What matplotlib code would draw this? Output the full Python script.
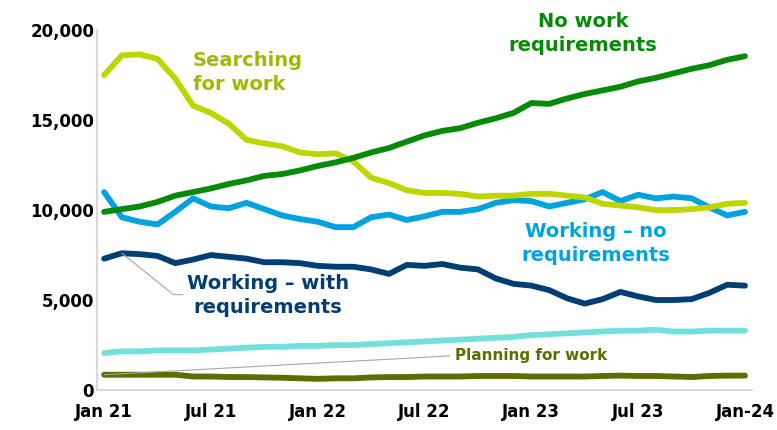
import matplotlib.pyplot as plt

months = ['Jan 21', 'Feb 21', 'Mar 21', 'Apr 21', 'May 21', 'Jun 21', 'Jul 21', 'Aug 21', 'Sep 21', 'Oct 21',
          'Nov 21', 'Dec 21', 'Jan 22', 'Feb 22', 'Mar 22', 'Apr 22', 'May 22', 'Jun 22', 'Jul 22', 'Aug 22',
          'Sep 22', 'Oct 22', 'Nov 22', 'Dec 22', 'Jan 23', 'Feb 23', 'Mar 23', 'Apr 23', 'May 23', 'Jun 23',
          'Jul 23', 'Aug 23', 'Sep 23', 'Oct 23', 'Nov 23', 'Dec 23', 'Jan-24']
tick_labels = ['Jan 21', 'Jul 21', 'Jan 22', 'Jul 22', 'Jan 23', 'Jul 23', 'Jan-24']

searching = [17500, 18600, 18650, 18400, 17300, 15800, 15400, 14800, 13900, 13700,
             13550, 13200, 13100, 13150, 12700, 11800, 11500, 11100, 10950, 10950,
             10900, 10750, 10800, 10800, 10900, 10900, 10800, 10700, 10350, 10250,
             10150, 10000, 10000, 10050, 10150, 10350, 10400]
no_work = [9900, 10050, 10200, 10450, 10800, 11000, 11200, 11450, 11650, 11900,
           12000, 12200, 12450, 12650, 12900, 13200, 13450, 13800, 14150, 14400,
           14550, 14850, 15100, 15400, 15950, 15900, 16200, 16450, 16650, 16850,
           17150, 17350, 17600, 17850, 18050, 18350, 18550]
working_no = [11000, 9600, 9350, 9200, 9900, 10650, 10200, 10100, 10400, 10050,
              9700, 9500, 9350, 9050, 9050, 9600, 9750, 9450, 9650, 9900,
              9900, 10050, 10400, 10550, 10500, 10200, 10400, 10600, 11000, 10500,
              10850, 10650, 10750, 10650, 10150, 9700, 9900]
working_with = [7300, 7600, 7550, 7450, 7050, 7250, 7500, 7400, 7300, 7100,
                7100, 7050, 6900, 6850, 6850, 6700, 6450, 6950, 6900, 7000,
                6800, 6700, 6200, 5900, 5800, 5550, 5100, 4800, 5050, 5450,
                5200, 5000, 5000, 5050, 5400, 5850, 5800]
preparing = [2050, 2150, 2150, 2200, 2200, 2200, 2250, 2300, 2350, 2400,
             2400, 2450, 2450, 2500, 2500, 2550, 2600, 2650, 2700, 2750,
             2800, 2850, 2900, 2950, 3050, 3100, 3150, 3200, 3250, 3300,
             3300, 3350, 3250, 3250, 3300, 3300, 3300]
planning = [850, 850, 850, 850, 850, 750, 750, 720, 720, 700,
            680, 650, 620, 650, 650, 700, 720, 720, 750, 750,
            750, 780, 780, 780, 750, 750, 750, 750, 780, 800,
            780, 780, 750, 720, 780, 800, 800]

x = list(range(len(months)))

fig = plt.figure(figsize=(7.77, 4.30), dpi=100)
ax = fig.add_axes([0.1248, 0.093, 0.8432, 0.837])

lw = 4.2
ax.plot(x, planning, color='#5E6D00', linewidth=lw, solid_capstyle='round')
ax.plot(x, preparing, color='#74E0DC', linewidth=lw, solid_capstyle='round')
ax.plot(x, working_with, color='#003E74', linewidth=lw, solid_capstyle='round')
ax.plot(x, working_no, color='#00A3E0', linewidth=lw, solid_capstyle='round')
ax.plot(x, searching, color='#BED600', linewidth=lw, solid_capstyle='round')
ax.plot(x, no_work, color='#078A07', linewidth=lw, solid_capstyle='round')

ax.set_xlim(-0.4, 36.4)
ax.set_ylim(0, 20000)
ax.set_xticks([months.index(m) for m in tick_labels])
ax.set_xticklabels(tick_labels)
ax.set_yticks(range(0, 20001, 5000))
ax.set_yticklabels(['0', '5,000', '10,000', '15,000', '20,000'])
ax.tick_params(length=0, labelsize=12)
ax.tick_params(axis='x', pad=9)
ax.tick_params(axis='y', pad=2)
for lbl in ax.get_xticklabels() + ax.get_yticklabels():
    lbl.set_fontweight('bold')

for side in ['top', 'right']:
    ax.spines[side].set_visible(False)
for side in ['left', 'bottom']:
    ax.spines[side].set_color('#D9D9D9')
    ax.spines[side].set_linewidth(1.5)

font = dict(fontsize=14, fontweight='bold', linespacing=1.35)
ax.text(5, 17650, 'Searching\nfor work', color='#A2B800', ha='left', va='center', **font)
ax.text(26.9, 19800, 'No work\nrequirements', color='#078A07', ha='center', va='center', **font)
ax.text(27.6, 8150, 'Working \u2013 no\nrequirements', color='#00A3E0', ha='center', va='center', **font)
ax.text(9.2, 5250, 'Working \u2013 with\nrequirements', color='#003E74', ha='center', va='center', **font)
ax.text(19.7, 1900, 'Planning for work', color='#5E6D00', ha='left', va='center',
        fontsize=11, fontweight='bold')

# leader lines
ax.plot([1, 3.9, 4.4], [7600, 5300, 5300], color='#A6A6A6', linewidth=0.8)
ax.plot([0, 18.6, 19.4], [850, 1850, 1900], color='#A6A6A6', linewidth=0.8)

fig.savefig('out.png', dpi=100)
